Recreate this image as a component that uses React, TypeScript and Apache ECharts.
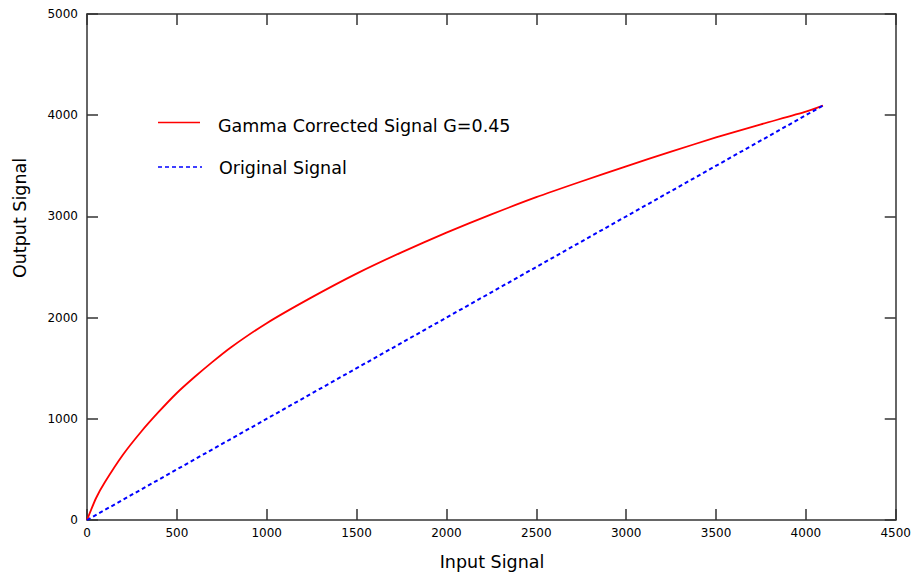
import React, { useEffect, useRef } from "react";
import * as echarts from "echarts";

const inputX = [0, 50, 100, 200, 300, 400, 500, 600, 700, 800, 1000, 1250, 1500, 1750, 2000, 2250, 2500, 2750, 3000, 3250, 3500, 3750, 4000, 4095];
const gammaY = [0, 215, 375, 645, 870, 1070, 1255, 1415, 1565, 1705, 1945, 2200, 2435, 2645, 2840, 3020, 3190, 3345, 3495, 3640, 3780, 3910, 4035, 4095];
const originalX = [0, 4095];
const originalY = [0, 4095];
const seriesNames = ["Gamma Corrected Signal G=0.45", "Original Signal"];
const xTitle = "Input Signal";
const yTitle = "Output Signal";

const FONT = "DejaVu Sans, Verdana, sans-serif";
const AXIS_COLOR = "#333";

export default function App() {
  const ref = useRef<HTMLDivElement>(null);
  useEffect(() => {
    if (!ref.current) return;
    const chart = echarts.init(ref.current, undefined, { renderer: "svg" });
    const axisCommon = {
      axisLine: { show: true, onZero: false, lineStyle: { color: AXIS_COLOR, width: 1.5 } },
      axisTick: { show: true, inside: true, length: 11, lineStyle: { color: AXIS_COLOR, width: 1.5 } },
      splitLine: { show: false },
    };
    const labelStyle = { color: "#000", fontSize: 12, fontFamily: FONT, formatter: (v: number) => String(v) };
    chart.setOption({
      animation: false,
      backgroundColor: "#fff",
      grid: { left: 87, right: 15, top: 14, bottom: 55, containLabel: false },
      xAxis: [
        {
          type: "value", position: "bottom", min: 0, max: 4500, interval: 500,
          ...axisCommon,
          axisLabel: { ...labelStyle, margin: 7, showMaxLabel: true },
        },
        {
          type: "value", position: "top", min: 0, max: 4500, interval: 500,
          ...axisCommon,
          axisLabel: { show: false },
        },
      ],
      yAxis: [
        {
          type: "value", position: "left", min: 0, max: 5000, interval: 1000,
          ...axisCommon,
          axisLabel: { ...labelStyle, margin: 9 },
        },
        {
          type: "value", position: "right", min: 0, max: 5000, interval: 1000,
          ...axisCommon,
          axisLabel: { show: false },
        },
      ],
      series: [
        {
          name: seriesNames[0], type: "line", xAxisIndex: 0, yAxisIndex: 0,
          data: inputX.map((x, i) => [x, gammaY[i]]),
          showSymbol: false, symbol: "none", smooth: 0.2,
          lineStyle: { color: "#ff0000", width: 1.8 },
        },
        {
          name: seriesNames[1], type: "line", xAxisIndex: 0, yAxisIndex: 0,
          data: originalX.map((x, i) => [x, originalY[i]]),
          showSymbol: false, symbol: "none",
          lineStyle: { color: "#0000ff", width: 2, type: [4, 3] },
        },
      ],
      graphic: [
        { type: "line", shape: { x1: 158, y1: 122.5, x2: 200, y2: 122.5 }, style: { stroke: "#ff0000", lineWidth: 1.5 } },
        { type: "text", x: 218, y: 126, style: { text: seriesNames[0], font: `17.5px ${FONT}`, fill: "#000", textVerticalAlign: "middle", textAlign: "left" } },
        { type: "line", shape: { x1: 158, y1: 167, x2: 202, y2: 167 }, style: { stroke: "#0000ff", lineWidth: 1.5, lineDash: [4, 3] } },
        { type: "text", x: 219, y: 168, style: { text: seriesNames[1], font: `17.5px ${FONT}`, fill: "#000", textVerticalAlign: "middle", textAlign: "left" } },
        { type: "text", x: 492, y: 562, style: { text: xTitle, font: `17.5px ${FONT}`, fill: "#000", textAlign: "center", textVerticalAlign: "middle" } },
        { type: "text", x: 20, y: 218, rotation: Math.PI / 2, style: { text: yTitle, font: `17.5px ${FONT}`, fill: "#000", textAlign: "center", textVerticalAlign: "middle" } },
      ],
    });
    return () => chart.dispose();
  }, []);
  return <div ref={ref} style={{ width: 914, height: 575, position: "absolute", left: 0, top: 0 }} />;
}
